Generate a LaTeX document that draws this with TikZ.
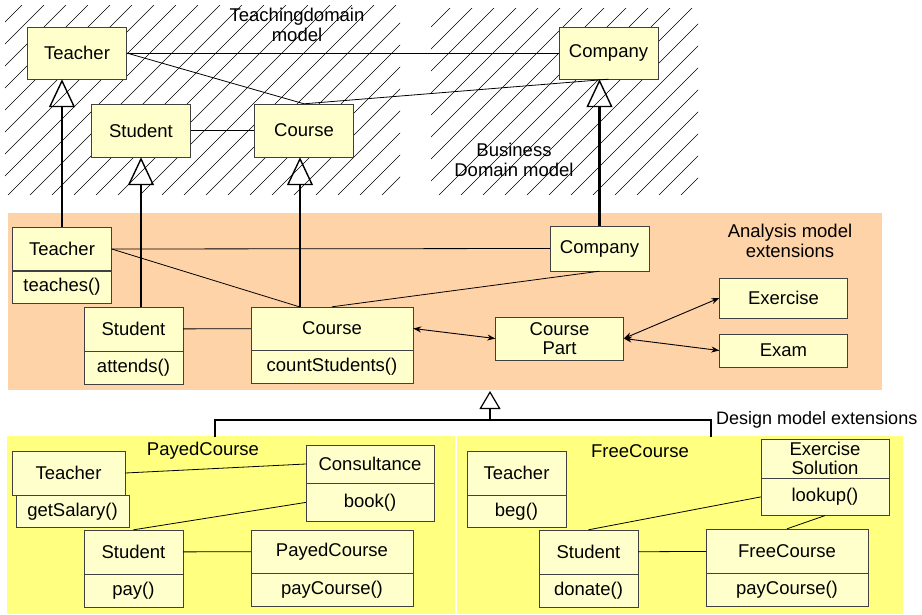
\documentclass[tikz,border=0pt]{standalone}
\usepackage{fontspec}
\setmainfont{Liberation Sans}
\usetikzlibrary{arrows.meta,positioning}
\definecolor{boxfill}{HTML}{FFFFCC}
\definecolor{analysisbg}{HTML}{FFD3A8}
\definecolor{designbg}{HTML}{FFFF80}

\begin{document}
\begin{tikzpicture}[%
x=1pt, y=-1pt,
>={Stealth[length=8pt,width=6pt]},
every node/.style={font=\fontsize{18.5}{19.5}\selectfont},
cls/.style={draw=black!75, fill=boxfill, inner sep=0pt, minimum width=99pt, minimum height=44pt, align=center},
wide/.style={cls, minimum width=162pt},
mid/.style={cls, minimum width=128pt},
meth/.style={minimum height=33pt},
assoc/.style={draw, line width=0.8pt},
gen/.style={line width=2.5pt, -{Triangle[open, length=28pt, width=26pt, line width=1.4pt]}},
nav/.style={<->, line width=0.9pt},
hatch/.style={line width=0.6pt}
]
\useasboundingbox (0,0) rectangle (922,614);

% model areas
\fill[analysisbg] (8,213) rectangle (882,390);
\fill[designbg] (7,436) rectangle (455,614);
\fill[designbg] (457,436) rectangle (903,614);

\begin{scope}
\clip (5,5) rectangle (400,195);
\foreach \a in {-190,-168,...,400} \draw[hatch] (\a,195) -- ++(190,-190);
\end{scope}
\begin{scope}
\clip (431,8) rectangle (698,195);
\foreach \a in {241,263,...,698} \draw[hatch] (\a,195) -- ++(190,-190);
\end{scope}

\node[align=center] (lTeach) at (297,25) {Teachingdomain\\model};
\node[align=center] (lBusiness) at (514,160) {Business\\Domain model};
\node[align=center] (lAnalysis) at (790,241) {Analysis model\\extensions};
\node[anchor=west, inner sep=0pt, font=\fontsize{18}{19.5}\selectfont] (lDesign) at (716,420) {Design model extensions};
\node (lPayed) at (203,451) {PayedCourse};
\node (lFree) at (640,451) {FreeCourse};

% domain models
\node[cls, minimum height=52pt] (tTeacher) at (77,53) {Teacher};
\node[cls, minimum height=53pt] (tStudent) at (141,130.5) {Student};
\node[cls, minimum height=53pt] (tCourse) at (304,130.5) {Course};
\node[cls, minimum height=52pt] (tCompany) at (608.5,53) {Company};

% analysis model
\node[cls, minimum height=43pt] (aTeacher) at (62,249) {Teacher};
\node[cls, meth, minimum height=32pt, below=0pt of aTeacher] (aTeacherM) {teaches()};
\node[cls] (aStudent) at (133.5,329) {Student};
\node[cls, meth, below=0pt of aStudent] (aStudentM) {attends()};
\node[wide, minimum height=43pt] (aCourse) at (332,328.5) {Course};
\node[wide, meth, below=0pt of aCourse] (aCourseM) {countStudents()};
\node[cls, minimum height=45pt] (aCompany) at (599.5,248.5) {Company};
\node[mid, minimum height=43pt] (aPart) at (559.5,338.5) {Course\\Part};
\node[mid, minimum height=40pt] (aExercise) at (783.5,298) {Exercise};
\node[mid, minimum height=33pt] (aExam) at (783.5,350.5) {Exam};

% design model, payed
\node[cls, minimum width=113pt] (pTeacher) at (68.5,473) {Teacher};
\node[cls, meth, minimum width=113pt, minimum height=32pt, below=0pt of pTeacher, xshift=4pt] (pTeacherM) {getSalary()};
\node[mid, minimum height=38pt] (pConsult) at (370,464) {Consultance};
\node[mid, minimum height=38pt, below=0pt of pConsult] (pConsultM) {book()};
\node[cls] (pStudent) at (133.5,552) {Student};
\node[cls, meth, below=0pt of pStudent] (pStudentM) {pay()};
\node[wide, minimum height=43pt] (pCourse) at (332,551.5) {PayedCourse};
\node[wide, meth, below=0pt of pCourse] (pCourseM) {payCourse()};

% design model, free
\node[cls] (fTeacher) at (516.5,473) {Teacher};
\node[cls, meth, minimum height=32pt, below=0pt of fTeacher] (fTeacherM) {beg()};
\node[mid, minimum height=39pt] (fSolution) at (825,458.5) {Exercise\\Solution};
\node[mid, minimum height=37pt, below=0pt of fSolution] (fSolutionM) {lookup()};
\node[cls] (fStudent) at (588.5,552) {Student};
\node[cls, meth, below=0pt of fStudent] (fStudentM) {donate()};
\node[wide] (fCourse) at (787,551) {FreeCourse};
\node[wide, meth, below=0pt of fCourse] (fCourseM) {payCourse()};

% associations
\draw[assoc] (tTeacher.east) -- (tCompany.west);
\draw[assoc] (tTeacher.east) -- (tCourse.north);
\draw[assoc] (tCourse.north) -- (tCompany.south);
\draw[assoc] (tStudent) -- (tCourse);

\coordinate (cGen) at (300,307);
\draw[assoc] (aTeacher.east) -- (aCompany.west);
\draw[assoc] (aTeacher.east) -- (cGen);
\draw[assoc] (aCourse.north) -- (aCompany.south);
\draw[assoc] (aStudent) -- (aCourse);
\draw[nav] (aCourse.east) -- (aPart.west);
\draw[nav] (aPart.east) -- (aExercise.west);
\draw[nav] (aPart.east) -- (aExam.west);

\draw[assoc] (pTeacher.east) -- (pConsult.west);
\draw[assoc] (pStudent.north) -- (pConsultM.west);
\draw[assoc] (pStudent) -- (pCourse);
\draw[assoc] (fStudent.north) -- (fSolutionM.west);
\draw[assoc] (fSolutionM.south) -- (fCourse.north);
\draw[assoc] (fStudent) -- (fCourse);

% generalisations
\draw[gen] (aTeacher.north) -- (aTeacher.north |- tTeacher.south);
\draw[gen] (aStudent.north -| tStudent.south) -- (tStudent.south);
\draw[gen] (cGen) -- (cGen |- tCourse.south);
\draw[gen] (aCompany.north) -- (aCompany.north |- tCompany.south);

\coordinate (dTip) at (490,391);
\coordinate (dJoin) at (490,420);
\coordinate (dLeft) at (215,437);
\coordinate (dRight) at (711,437);
\draw[line width=1.5pt] (dLeft) |- (dJoin) -| (dRight);
\draw[line width=1.2pt, -{Triangle[open, length=18pt, width=21pt]}] (dJoin) -- (dTip);

\end{tikzpicture}
\end{document}
